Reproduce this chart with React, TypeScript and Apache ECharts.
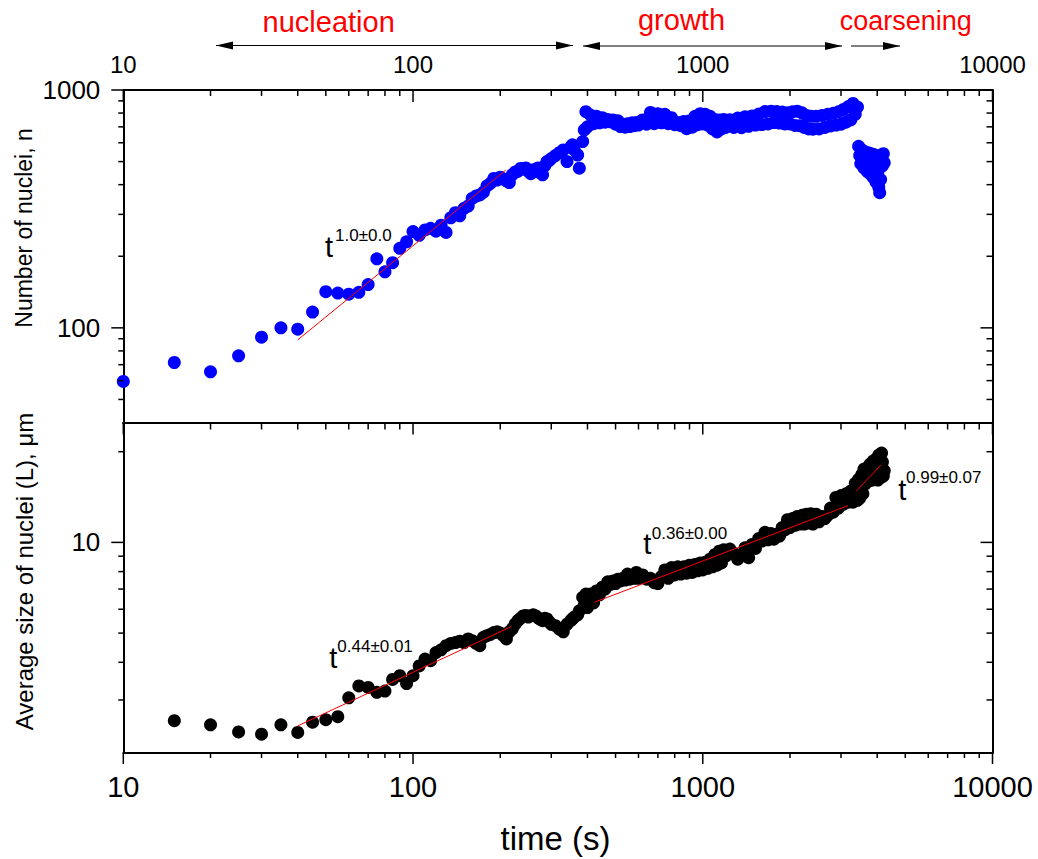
import React, { useEffect, useRef } from "react";
import * as echarts from "echarts";

// ---------------- data ----------------
const times = [
  10, 15, 20, 25, 30, 35, 40, 45, 50, 55, 60, 65, 70, 75, 80, 85, 90, 95, 100,
  105, 110, 115, 120, 125, 130, 135, 140, 145, 150, 155, 160, 165, 170, 175, 180, 185, 190, 195, 200,
  205, 210, 215, 220, 225, 230, 235, 240, 245, 250, 255, 260, 265, 270, 275, 280, 285, 290, 295, 300,
  310, 320, 330, 340, 350, 355, 360, 370, 375, 385, 390, 395,
  400, 410, 420, 430, 440, 450, 460, 470, 480, 490, 500, 510, 520, 530, 540, 550, 560, 570, 580, 590, 600,
  620, 640, 660, 680, 700, 720, 740, 760, 780, 800, 820, 840, 860, 880, 900, 920, 940, 960, 980, 1000,
  1020, 1040, 1060, 1080, 1100, 1120, 1140, 1160, 1180, 1200,
  1240, 1280, 1320, 1360, 1400, 1440, 1480, 1520, 1560, 1600, 1640, 1680, 1720, 1760, 1800, 1840, 1880,
  1920, 1960, 2000, 2040, 2080, 2120, 2160, 2200, 2240, 2280, 2320, 2360, 2400,
  2460, 2520, 2580, 2640, 2700, 2760, 2820, 2880, 2940, 3000, 3060, 3120, 3180, 3240, 3300, 3360, 3420,
  3450, 3480, 3510, 3540, 3570, 3600, 3630, 3660, 3690, 3720, 3750, 3780, 3810, 3840, 3870, 3900, 3930,
  3960, 3990, 4020, 4050, 4080, 4110, 4140, 4170, 4200, 4230,
];

// Number of nuclei, n
const nucleiCount = [
  59.5, 71.5, 65.3, 76.3, 91.4, 100, 98.7, 116.5, 142, 140, 138.5, 141, 152, 195, 172, 188, 216, 230, 254,
  245, 258, 262, 255, 270, 252, 290, 305, 296, 318, 325, 350, 358, 362, 372, 395, 405, 425, 418, 430,
  422, 415, 408, 440, 452, 455, 468, 465, 470, 455, 445, 462, 455, 470, 448, 440, 480, 500, 505, 515,
  530, 545, 560, 500, 575, 588, 560, 533, 469, 607, 679, 811,
  700, 785, 722, 775, 728, 765, 732, 752, 735, 748, 718, 742, 702, 715, 698, 722, 702, 728, 708, 730, 712,
  748, 718, 805, 722, 795, 728, 790, 722, 765, 715, 730, 708, 738, 688, 742, 698, 775, 715, 795, 720,
  790, 712, 775, 686, 752, 666, 748, 686, 752, 696,
  750, 696, 762, 694, 772, 704, 778, 712, 792, 716, 812, 720, 815, 730, 812, 726, 808,
  720, 802, 720, 810, 710, 815, 708, 802, 696, 782, 686, 775, 684,
  775, 686, 782, 696, 790, 706, 798, 712, 810, 718, 828, 732, 852, 748, 878, 790, 848,
  580, 530, 490, 560, 510, 470, 550, 500, 455, 545, 495, 445, 540, 480, 430, 535, 470,
  410, 530, 450, 390, 370, 420, 525, 480, 540, 495,
];

// Average size of nuclei (L), um  (no value at t = 10 s)
const nucleiSize = [
  null, 2.56, 2.48, 2.35, 2.31, 2.48, 2.34, 2.53, 2.58, 2.64, 3.05, 3.34, 3.3, 3.18, 3.21, 3.51, 3.61, 3.4, 3.61,
  3.89, 4.1, 4.05, 4.31, 4.4, 4.54, 4.62, 4.65, 4.7, 4.65, 4.78, 4.72, 4.62, 4.54, 4.84, 4.9, 4.95, 5.02, 5.05, 5.0,
  4.9, 4.78, 5.05, 5.16, 5.35, 5.5, 5.6, 5.7, 5.72, 5.65, 5.71, 5.75, 5.7, 5.62, 5.55, 5.5, 5.6, 5.57, 5.45, 5.35,
  5.29, 5.15, 5.05, 5.35, 5.5, 5.57, 5.65, 5.75, 5.93, 6.57, 6.2, 6.74,
  6.08, 6.74, 6.3, 6.9, 6.7, 7.1, 7.0, 7.4, 7.25, 7.45, 7.3, 7.55, 7.45, 7.6, 7.5, 7.85, 7.55, 7.75, 7.6, 7.95, 7.6,
  7.8, 7.55, 7.6, 7.35, 7.3, 7.7, 8.1, 7.6, 8.25, 7.8, 8.3, 7.85, 8.3, 7.9, 8.4, 7.95, 8.45, 8.05, 8.55, 8.1,
  8.6, 8.2, 8.8, 8.3, 9.1, 8.4, 9.35, 8.55, 9.45, 9.0,
  9.5, 9.2, 8.8, 9.1, 9.6, 8.9, 9.85, 9.55, 10.3, 10.1, 10.8, 10.2, 10.7, 10.25, 10.65, 10.5, 11.2,
  11.0, 11.9, 11.2, 12.0, 11.4, 12.2, 11.5, 12.3, 11.5, 12.4, 11.6, 12.45, 11.5,
  12.4, 11.7, 12.2, 12.0, 12.3, 13.0, 12.6, 14.1, 13.0, 14.3, 13.4, 14.5, 13.6, 14.8, 13.6, 15.7, 13.8,
  16.2, 14.0, 15.2, 16.8, 14.5, 17.5, 15.6, 17.6, 16.3, 17.7, 16.0, 18.2, 17.0, 16.1, 18.6, 17.3, 16.2,
  18.9, 17.5, 16.1, 19.5, 18.0, 16.4, 19.8, 18.5, 16.6, 17.3,
];

// power-law fit lines (end points)
const fitNuclei = [[40, 89], [209, 461]];
const fitSize1 = [[40, 2.46], [218, 5.25]];
const fitSize2 = [[423, 6.33], [3170, 13.24]];
const fitSize3 = [[3381, 14.77], [4121, 18.07]];

const fitExponents = ["1.0±0.0", "0.44±0.01", "0.36±0.00", "0.99±0.07"];
const phaseLabels = ["nucleation", "growth", "coarsening"];

// axis ranges and ticks
const X_MIN = 10, X_MAX = 10000;
const N_MIN = 40, N_MAX = 1000;
const L_MIN = 2, L_MAX = 25;

const xMajorTicks = [10, 100, 1000, 10000];
const xMajorLabels = ["10", "100", "1000", "10000"];
const xMinorTicks = [20, 30, 40, 50, 60, 70, 80, 90, 200, 300, 400, 500, 600, 700, 800, 900,
  2000, 3000, 4000, 5000, 6000, 7000, 8000, 9000];
const nMajorTicks = [100, 1000];
const nMajorLabels = ["100", "1000"];
const nMinorTicks = [50, 60, 70, 80, 90, 200, 300, 400, 500, 600, 700, 800, 900];
const lMajorTicks = [10];
const lMajorLabels = ["10"];
const lMinorTicks = [3, 4, 5, 6, 7, 8, 9, 20];

// ---------------- helpers ----------------
const FONT = '"Liberation Sans", Arial, Helvetica, sans-serif';

function tickSeries(gi: number, dim: "x" | "y", values: number[], edge: number, dx: number, dy: number) {
  return {
    type: "custom",
    xAxisIndex: gi * 2,
    yAxisIndex: gi * 2,
    silent: true,
    clip: false,
    z: 20,
    data: values.map((v) => (dim === "x" ? [v, edge] : [edge, v])),
    renderItem: (_params: any, api: any) => {
      const p = api.coord([api.value(0), api.value(1)]);
      return {
        type: "line",
        shape: { x1: p[0], y1: p[1], x2: p[0] + dx, y2: p[1] + dy },
        style: { stroke: "#000", lineWidth: 1.5 },
      };
    },
  };
}

function labelSeries(
  gi: number, dim: "x" | "y", values: number[], texts: string[], edge: number,
  dx: number, dy: number, fontSize: number, align: string
) {
  return {
    type: "custom",
    xAxisIndex: gi * 2,
    yAxisIndex: gi * 2,
    silent: true,
    clip: false,
    z: 20,
    data: values.map((v) => (dim === "x" ? [v, edge] : [edge, v])),
    renderItem: (params: any, api: any) => {
      const p = api.coord([api.value(0), api.value(1)]);
      return {
        type: "text",
        x: p[0] + dx,
        y: p[1] + dy,
        style: {
          text: texts[params.dataIndex],
          fill: "#000",
          fontSize,
          fontFamily: FONT,
          align,
          verticalAlign: "middle",
          textAlign: align,
          textVerticalAlign: "middle",
        },
      };
    },
  };
}

function txt(text: string, x: number, y: number, fontSize: number, color: string, align = "left", rotation = 0) {
  return {
    type: "text",
    x,
    y,
    rotation,
    silent: true,
    z: 30,
    style: {
      text,
      fill: color,
      fontSize,
      fontFamily: FONT,
      align,
      verticalAlign: "middle",
      textAlign: align,
      textVerticalAlign: "middle",
    },
  };
}

function hline(x1: number, x2: number, y: number) {
  return { type: "line", silent: true, shape: { x1, y1: y, x2, y2: y }, style: { stroke: "#000", lineWidth: 1 } };
}
function head(tipX: number, y: number, dir: number) {
  const L = 17, H = 4;
  return {
    type: "polygon",
    silent: true,
    shape: { points: [[tipX, y], [tipX - dir * L, y - H], [tipX - dir * L, y + H]] },
    style: { fill: "#000" },
  };
}

const axisBase = {
  type: "log",
  logBase: 10,
  axisTick: { show: false },
  axisLabel: { show: false },
  splitLine: { show: false },
  axisPointer: { show: false },
  axisLine: { show: true, onZero: false, lineStyle: { color: "#000", width: 2 } },
};

function buildOption() {
  const topData = times.map((t, i) => [t, nucleiCount[i]]);
  const bottomData = times
    .map((t, i) => (nucleiSize[i] == null ? null : [t, nucleiSize[i] as number]))
    .filter((d) => d !== null);

  const fitLine = (data: number[][], gi: number) => ({
    type: "line",
    xAxisIndex: gi * 2,
    yAxisIndex: gi * 2,
    data,
    symbol: "none",
    z: 10,
    lineStyle: { color: "#ff0000", width: 1 },
  });

  return {
    animation: false,
    backgroundColor: "#ffffff",
    grid: [
      { left: 123.3, top: 90, width: 869.2, height: 332.5 },
      { left: 123.3, top: 422.5, width: 869.2, height: 330.5 },
    ],
    xAxis: [
      { ...axisBase, gridIndex: 0, position: "bottom", min: X_MIN, max: X_MAX },
      { ...axisBase, gridIndex: 0, position: "top", min: X_MIN, max: X_MAX },
      { ...axisBase, gridIndex: 1, position: "bottom", min: X_MIN, max: X_MAX },
      { ...axisBase, gridIndex: 1, position: "top", min: X_MIN, max: X_MAX },
    ],
    yAxis: [
      { ...axisBase, gridIndex: 0, position: "left", min: N_MIN, max: N_MAX },
      { ...axisBase, gridIndex: 0, position: "right", min: N_MIN, max: N_MAX },
      { ...axisBase, gridIndex: 1, position: "left", min: L_MIN, max: L_MAX },
      { ...axisBase, gridIndex: 1, position: "right", min: L_MIN, max: L_MAX },
    ],
    series: [
      {
        type: "scatter",
        xAxisIndex: 0,
        yAxisIndex: 0,
        data: topData,
        symbol: "circle",
        symbolSize: 13,
        itemStyle: { color: "#0000ff", opacity: 1 },
        z: 5,
      },
      {
        type: "scatter",
        xAxisIndex: 2,
        yAxisIndex: 2,
        data: bottomData,
        symbol: "circle",
        symbolSize: 13,
        itemStyle: { color: "#000000", opacity: 1 },
        z: 5,
      },
      fitLine(fitNuclei, 0),
      fitLine(fitSize1, 1),
      fitLine(fitSize2, 1),
      fitLine(fitSize3, 1),
      // top panel ticks
      tickSeries(0, "x", xMajorTicks, N_MAX, 0, 12),
      tickSeries(0, "x", xMinorTicks, N_MAX, 0, 6),
      tickSeries(0, "y", nMajorTicks, X_MIN, -12, 0),
      tickSeries(0, "y", nMinorTicks, X_MIN, -5, 0),
      tickSeries(0, "y", nMajorTicks, X_MAX, -12, 0),
      tickSeries(0, "y", nMinorTicks, X_MAX, -6, 0),
      labelSeries(0, "x", xMajorTicks, xMajorLabels, N_MAX, 0, -25.5, 24, "center"),
      labelSeries(0, "y", nMajorTicks, nMajorLabels, X_MIN, -23, 0, 26, "right"),
      // bottom panel ticks
      tickSeries(1, "x", xMajorTicks, L_MAX, 0, 12),
      tickSeries(1, "x", xMinorTicks, L_MAX, 0, 7),
      tickSeries(1, "x", xMajorTicks, L_MIN, 0, 11),
      tickSeries(1, "x", xMinorTicks, L_MIN, 0, 5),
      tickSeries(1, "y", lMajorTicks, X_MIN, -12, 0),
      tickSeries(1, "y", lMinorTicks, X_MIN, -5, 0),
      tickSeries(1, "y", lMajorTicks, X_MAX, -12, 0),
      tickSeries(1, "y", lMinorTicks, X_MAX, -6, 0),
      labelSeries(1, "x", xMajorTicks, xMajorLabels, L_MIN, 0, 34, 29, "center"),
      labelSeries(1, "y", lMajorTicks, lMajorLabels, X_MIN, -23, 0, 26, "right"),
    ],
    graphic: [
      // phase labels and arrows
      txt(phaseLabels[0], 328.7, 21.6, 29, "#ff0000", "center"),
      txt(phaseLabels[1], 681.5, 20.2, 29, "#ff0000", "center"),
      txt(phaseLabels[2], 905.7, 20.6, 27, "#ff0000", "center"),
      hline(216, 573, 45.5),
      head(216, 45.5, -1),
      head(573, 45.5, 1),
      hline(583, 842, 46),
      head(583, 46, -1),
      head(842, 46, 1),
      hline(851, 900, 46),
      head(900, 46, 1),
      // axis titles
      txt("Number of nuclei, n", 24, 228, 23, "#000", "center", Math.PI / 2),
      txt("Average size of nuclei (L), μm", 24, 571.5, 24, "#000", "center", Math.PI / 2),
      txt("time (s)", 555.5, 838, 33, "#000", "center"),
      // power-law annotations
      txt("t", 325, 246.7, 29, "#000"),
      txt(fitExponents[0], 335, 235.1, 17, "#000"),
      txt("t", 329.3, 658.3, 29, "#000"),
      txt(fitExponents[1], 337.3, 646.4, 17, "#000"),
      txt("t", 643.3, 544, 29, "#000"),
      txt(fitExponents[2], 651.7, 533.1, 17, "#000"),
      txt("t", 898.3, 490, 29, "#000"),
      txt(fitExponents[3], 906, 477.4, 17, "#000"),
    ],
  };
}

export default function App() {
  const ref = useRef<HTMLDivElement>(null);
  useEffect(() => {
    if (!ref.current) return;
    const chart = echarts.init(ref.current, null, { renderer: "svg" });
    chart.setOption(buildOption() as any);
    return () => chart.dispose();
  }, []);
  return (
    <div
      ref={ref}
      style={{ position: "absolute", left: 0, top: 0, width: 1038, height: 859, background: "#fff" }}
    />
  );
}
